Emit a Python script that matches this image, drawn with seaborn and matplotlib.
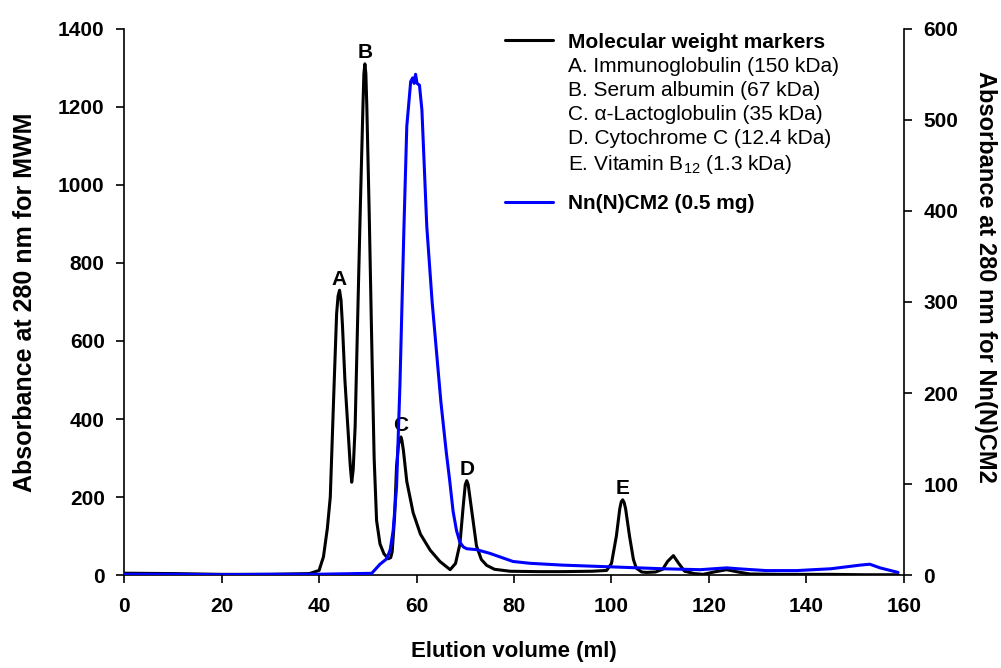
import numpy as np
import pandas as pd
import matplotlib
matplotlib.use("Agg")
import matplotlib.pyplot as plt
from matplotlib.lines import Line2D
import seaborn as sns

# ── Data ─────────────────────────────────────────────────────────────────────
mwm_volume = [0, 10, 20, 30, 38, 40, 40.9, 41.7, 42.3, 43.0, 43.6, 43.9, 44.2,
              44.5, 44.8, 45.3, 45.9, 46.4, 46.7, 47.0, 47.4, 48.0, 48.5, 49.0,
              49.2, 49.4, 49.6, 49.8, 50.3, 50.8, 51.3, 51.8, 52.5, 53.3, 54.2,
              54.7, 55.0, 55.5, 55.9, 56.3, 56.6, 56.8, 57.0, 57.3, 58.0, 59.3,
              60.8, 62.8, 64.8, 66.9, 68.0, 68.9, 69.6, 70.0, 70.3, 70.6, 71.0,
              72.3, 73.3, 74.4, 76.0, 79.2, 85, 90, 96, 99, 100, 101, 101.7,
              102.0, 102.3, 102.6, 102.9, 103.7, 104.5, 105.1, 106.2, 107.2,
              109, 110.5, 111.5, 112.7, 113.8, 115, 117, 118.8, 121, 123.6, 126,
              128.4, 135, 145, 152, 158.8]
mwm_abs = [5, 4, 2, 2, 4, 12, 47, 120, 200, 457, 670, 715, 730,
           705, 640, 500, 380, 280, 238, 270, 380, 700, 960, 1200,
           1285, 1310, 1285, 1200, 920, 600, 300, 140, 80, 55, 42,
           45, 60, 150, 280, 335, 348, 354, 345, 320, 240, 160,
           105, 64, 35, 14, 30, 80, 180, 232, 242, 232, 195,
           75, 40, 25, 15, 10, 9, 9, 10, 12, 30, 100, 170,
           188, 193, 186, 170, 100, 40, 18, 8, 7,
           8, 15, 35, 50, 30, 10, 4, 2, 8, 14, 8,
           3, 2, 2, 1, 1]

nn_volume = [0, 10, 20, 30, 40, 45, 50.8, 52.5, 53.9, 54.6, 55.2, 55.9, 56.6,
             57.4, 58.0, 58.8, 59.2, 59.5, 59.8, 60.1, 60.6, 61.1, 62.1, 63.2,
             64.1, 65.0, 66.1, 66.8, 67.5, 68.2, 68.9, 69.6, 70.3, 72.3, 75,
             79.8, 83.3, 90, 100.4, 110.6, 118.2, 123.6, 126, 131.8, 138, 141.4,
             145, 151, 153, 155.1, 158.8]
nn_abs = [1, 1, 0.5, 1, 1, 1.5, 2, 12, 18, 28, 49, 97, 210,
          379, 493, 542, 546, 540, 550, 540, 538, 511, 383, 300,
          245, 190, 135, 104, 70, 49, 36, 31, 29, 28, 24,
          15, 13, 11, 9, 7, 6, 8, 7, 5, 5, 6,
          7, 11, 12, 8, 3]

peak_letters = ["A", "B", "C", "D", "E"]
peak_volumes = [44.2, 49.4, 56.8, 70.3, 102.3]

marker_entries = ["A. Immunoglobulin (150 kDa)",
                  "B. Serum albumin (67 kDa)",
                  "C. \u03b1-Lactoglobulin (35 kDa)",
                  "D. Cytochrome C (12.4 kDa)",
                  "E. Vitamin B$_{12}$ (1.3 kDa)"]

mwm = pd.DataFrame({"volume": mwm_volume, "absorbance": mwm_abs})
nn = pd.DataFrame({"volume": nn_volume, "absorbance": nn_abs})

# ── Style ────────────────────────────────────────────────────────────────────
sns.set_style("ticks")
plt.rcParams.update({
    "font.family": ["Liberation Sans", "DejaVu Sans"],
    "mathtext.fontset": "custom",
    "mathtext.rm": "Liberation Sans",
    "mathtext.it": "Liberation Sans:italic",
    "mathtext.bf": "Liberation Sans:bold",
    "text.color": "black",
    "axes.labelcolor": "black",
    "axes.edgecolor": "black",
    "xtick.color": "black",
    "ytick.color": "black",
    "axes.linewidth": 1.2,
    "xtick.major.width": 1.2,
    "ytick.major.width": 1.2,
    "xtick.major.size": 6,
    "ytick.major.size": 6,
    "xtick.direction": "out",
    "ytick.direction": "out",
})

fig = plt.figure(figsize=(10.01, 6.68), dpi=100)
ax = fig.add_axes([0.124, 0.139, 0.779, 0.818])
ax2 = ax.twinx()

sns.lineplot(data=mwm, x="volume", y="absorbance", ax=ax, color="black",
             linewidth=2.2, estimator=None)
sns.lineplot(data=nn, x="volume", y="absorbance", ax=ax2, color="#0000ff",
             linewidth=2.2, estimator=None)

ax.set_xlim(0, 160)
ax.set_ylim(0, 1400)
ax2.set_ylim(0, 600)
ax.set_xticks(np.arange(0, 161, 20))
ax.set_yticks(np.arange(0, 1401, 200))
ax2.set_yticks(np.arange(0, 601, 100))

for a in (ax, ax2):
    a.spines["top"].set_visible(False)
    a.tick_params(labelsize=15)
    for lab in a.get_xticklabels() + a.get_yticklabels():
        lab.set_fontweight("bold")
ax.spines["right"].set_visible(False)
ax2.spines["left"].set_visible(False)
ax2.spines["bottom"].set_visible(False)
ax.tick_params(axis="x", pad=10)
ax.tick_params(axis="y", pad=8)
ax2.tick_params(axis="y", pad=8)

ax.set_xlabel("Elution volume (ml)", fontsize=16, fontweight="bold",
              va="center", ha="center")
ax.xaxis.set_label_coords(0.5, -0.14)
ax.set_ylabel("Absorbance at 280 nm for MWM", fontsize=18, fontweight="bold",
              va="center", ha="center")
ax.yaxis.set_label_coords(-0.127, 0.5)
ax2.set_ylabel("Absorbance at 280 nm for Nn(N)CM2", fontsize=17,
               fontweight="bold", rotation=270, va="center", ha="center")
ax2.yaxis.set_label_coords(1.104, 0.545)

# peak letters sit just above each marker peak
for letter, vol in zip(peak_letters, peak_volumes):
    height = np.interp(vol, mwm_volume, mwm_abs)
    ax.annotate(letter, (vol, height), xytext=(0, 4), textcoords="offset points",
                ha="center", va="baseline", fontsize=15, fontweight="bold")

# legend: marker block and sample entry
handles = [Line2D([], [], color="black", linewidth=2.2)]
handles += [Line2D([], [], color="none") for _ in marker_entries]
labels = ["Molecular weight markers"] + marker_entries
leg = ax.legend(handles, labels, loc="upper left", bbox_to_anchor=(0.4885, 0.993),
                frameon=False, fontsize=15, handlelength=2.3, handletextpad=0.72,
                labelspacing=0.24, borderpad=0, borderaxespad=0)
leg.get_texts()[0].set_fontweight("bold")
ax.add_artist(leg)

leg2 = ax.legend([Line2D([], [], color="#0000ff", linewidth=2.2)],
                 ["Nn(N)CM2 (0.5 mg)"], loc="center left",
                 bbox_to_anchor=(0.4885, 0.68), frameon=False, fontsize=15,
                 handlelength=2.3, handletextpad=0.72, borderpad=0,
                 borderaxespad=0)
leg2.get_texts()[0].set_fontweight("bold")

fig.savefig("out.png", dpi=100)
